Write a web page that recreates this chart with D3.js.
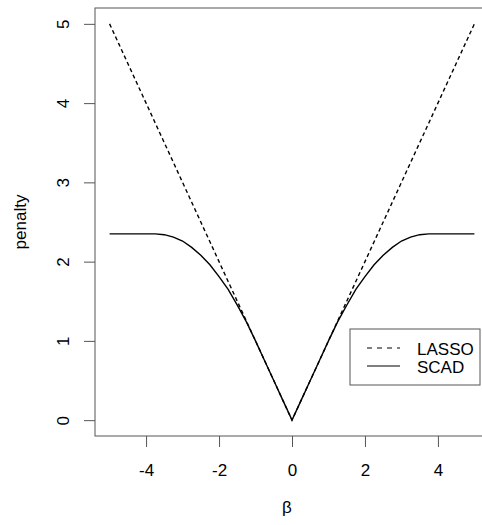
<!DOCTYPE html>
<html>
<head>
<meta charset="utf-8">
<script src="https://cdn.jsdelivr.net/npm/d3@7"></script>
<style>
  body { margin: 0; background: #fff; }
  svg { font-family: "Liberation Sans", Arial, sans-serif; }
</style>
</head>
<body>
<script>
// beta grid and penalty values
var beta = [-5, -4.75, -4.5, -4.25, -4, -3.75, -3.5, -3.25, -3, -2.75, -2.5, -2.25, -2, -1.75, -1.5, -1.25, -1, -0.75, -0.5, -0.25,
            0, 0.25, 0.5, 0.75, 1, 1.25, 1.5, 1.75, 2, 2.25, 2.5, 2.75, 3, 3.25, 3.5, 3.75, 4, 4.25, 4.5, 4.75, 5];
var lasso = [5, 4.75, 4.5, 4.25, 4, 3.75, 3.5, 3.25, 3, 2.75, 2.5, 2.25, 2, 1.75, 1.5, 1.25, 1, 0.75, 0.5, 0.25,
             0, 0.25, 0.5, 0.75, 1, 1.25, 1.5, 1.75, 2, 2.25, 2.5, 2.75, 3, 3.25, 3.5, 3.75, 4, 4.25, 4.5, 4.75, 5];
var scad = [2.35, 2.35, 2.35, 2.35, 2.35, 2.35, 2.34, 2.31, 2.26, 2.18, 2.08, 1.96, 1.81, 1.65, 1.45, 1.24, 1, 0.75, 0.5, 0.25,
            0, 0.25, 0.5, 0.75, 1, 1.24, 1.45, 1.65, 1.81, 1.96, 2.08, 2.18, 2.26, 2.31, 2.34, 2.35, 2.35, 2.35, 2.35, 2.35, 2.35];
var xTicks = [-4, -2, 0, 2, 4];
var yTicks = [0, 1, 2, 3, 4, 5];
var legendLabels = ["LASSO", "SCAD"];

var width = 482, height = 525;
// plot box edges (R extends the data range by 4%, right edge falls off the picture)
var boxL = 95, boxR = 489, boxT = 8, boxB = 436;
var axisColor = "#555";
var fontSize = 17;

var svg = d3.select("body").append("svg")
    .attr("width", width)
    .attr("height", height);

var x = d3.scaleLinear().domain([-5.4, 5.4]).range([boxL, boxR]);
var y = d3.scaleLinear().domain([-0.2, 5.2]).range([boxB, boxT]);

// x axis
var gx = svg.append("g")
    .attr("transform", "translate(0," + boxB + ")")
    .call(d3.axisBottom(x).tickValues(xTicks).tickSize(11).tickFormat(d3.format("d")));
gx.select(".domain").remove();
gx.selectAll("line").attr("stroke", axisColor);
gx.selectAll("text")
    .attr("y", 40).attr("dy", 0)
    .attr("font-size", fontSize).attr("fill", "#000")
    .text(function (d) { return d < 0 ? "-" + Math.abs(d) : d; });

// y axis, labels parallel to the axis
var gy = svg.append("g")
    .attr("transform", "translate(" + boxL + ",0)")
    .call(d3.axisLeft(y).tickValues(yTicks).tickSize(11).tickFormat(d3.format("d")));
gy.select(".domain").remove();
gy.selectAll("line").attr("stroke", axisColor);
gy.selectAll("text")
    .attr("x", 0).attr("y", 0).attr("dy", 0)
    .attr("transform", "translate(-26,0) rotate(-90)")
    .attr("text-anchor", "middle")
    .attr("font-size", fontSize).attr("fill", "#000");

// plot box
svg.append("rect")
    .attr("x", boxL).attr("y", boxT)
    .attr("width", boxR - boxL).attr("height", boxB - boxT)
    .attr("fill", "none")
    .attr("stroke", axisColor);

// axis titles
svg.append("text")
    .attr("x", (boxL + boxR) / 2 - 5)
    .attr("y", 513)
    .attr("text-anchor", "middle")
    .attr("font-size", fontSize)
    .text("β");

svg.append("text")
    .attr("transform", "translate(26," + ((boxT + boxB) / 2) + ") rotate(-90)")
    .attr("text-anchor", "middle")
    .attr("font-size", fontSize)
    .text("penalty");

// curves
var line = d3.line()
    .x(function (d, i) { return x(beta[i]); })
    .y(function (d) { return y(d); });

svg.append("path")
    .attr("d", line(lasso))
    .attr("fill", "none")
    .attr("stroke", "#000")
    .attr("stroke-width", 1.4)
    .attr("stroke-dasharray", "4,3");

svg.append("path")
    .attr("d", line(scad))
    .attr("fill", "none")
    .attr("stroke", "#000")
    .attr("stroke-width", 1.4);

// legend
var legend = svg.append("g");
legend.append("rect")
    .attr("x", 350).attr("y", 329)
    .attr("width", 130).attr("height", 56)
    .attr("fill", "#fff")
    .attr("stroke", axisColor);

legendLabels.forEach(function (lab, i) {
    var ly = 348 + i * 18;
    legend.append("line")
        .attr("x1", 367).attr("x2", 400)
        .attr("y1", ly).attr("y2", ly)
        .attr("stroke", "#000")
        .attr("stroke-width", 1.2)
        .attr("stroke-dasharray", i === 0 ? "5,5" : null);
    legend.append("text")
        .attr("x", 417).attr("y", ly + 7)
        .attr("font-size", fontSize)
        .text(lab);
});
</script>
</body>
</html>
